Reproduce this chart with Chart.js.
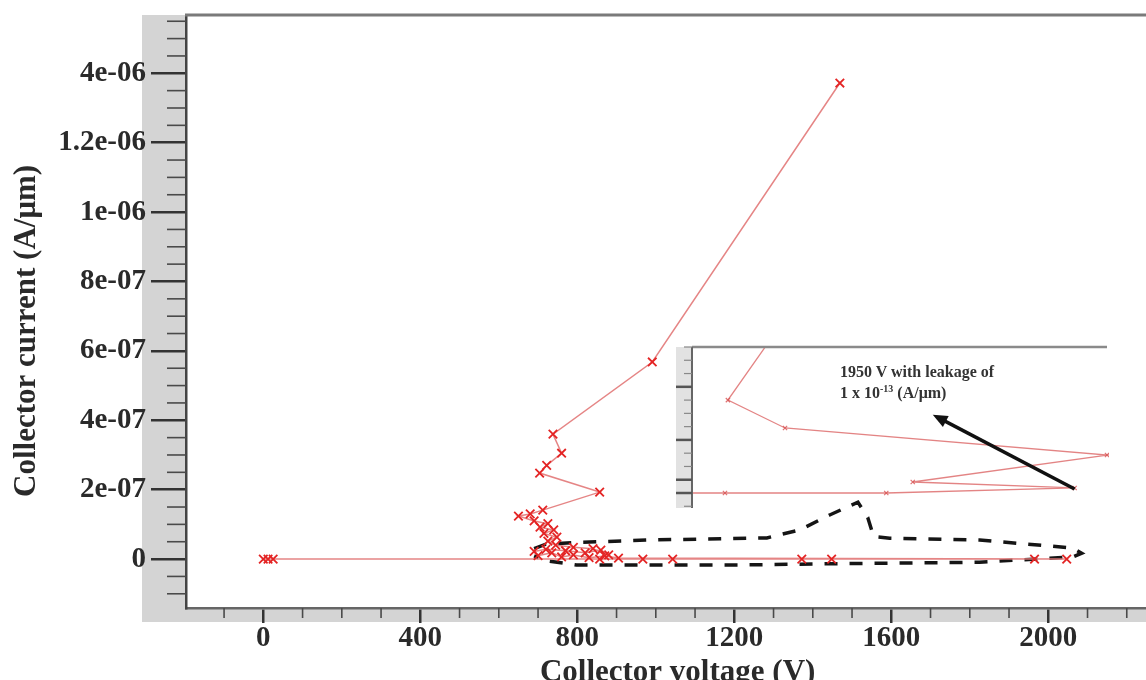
<!DOCTYPE html>
<html>
<head>
<meta charset="utf-8">
<script src="https://cdn.jsdelivr.net/npm/chart.js@4.4.0/dist/chart.umd.min.js"></script>
<style>
  html, body { margin: 0; padding: 0; background: #fff; }
  #wrap { position: relative; width: 1146px; height: 680px; overflow: hidden; }
  canvas { filter: blur(0.4px); }
  #main { position: absolute; left: 0; top: 0; }
  #inset { position: absolute; left: 660px; top: 330px; }
  .note { position: absolute; left: 840px; top: 361px; font: bold 16px 'Liberation Serif', 'Times New Roman', serif; color: #333; line-height: 21px; white-space: nowrap; }
  .note sup { font-size: 10px; line-height: 0; vertical-align: 6px; }
</style>
</head>
<body>
<div id="wrap">
  <canvas id="main" width="1146" height="700"></canvas>
  <canvas id="inset" width="486" height="190"></canvas>
  <div class="note">1950 V with leakage of<br>1 x 10<sup>-13</sup> (A/&mu;m)</div>
</div>
<script>
// --- data ---
// x: collector voltage (V), y: collector current (A/um)
const xTicks = [0, 400, 800, 1200, 1600, 2000];
const xTickLabels = ['0', '400', '800', '1200', '1600', '2000'];
const yTicks = [0, 2e-7, 4e-7, 6e-7, 8e-7, 1e-6, 1.2e-6, 1.4e-6];
const yTickLabels = ['0', '2e-07', '4e-07', '6e-07', '8e-07', '1e-06', '1.2e-06', '4e-06'];

// red sweep with x markers
const redV = [0, 12, 25, 857, 967, 1043, 1372, 1448, 1965, 2047,
  905, 870, 830, 790, 760, 735, 700, 690, 720, 770, 820, 860, 880, 840, 790,
  745, 725, 748, 715, 740, 705, 725, 690, 650, 680, 712,
  857, 704, 722, 760, 738, 991, 1469];
const redI = [0, 0, 0, 0, 0, 0, 0, 0, 0, 0,
  3e-9, 9e-9, 4e-9, 1.2e-8, 6e-9, 1.8e-8, 1.0e-8, 2.2e-8, 2.8e-8, 2.4e-8, 1.8e-8, 2.6e-8, 1.2e-8, 3.0e-8, 3.4e-8,
  4.0e-8, 5.2e-8, 6.3e-8, 7.4e-8, 8.4e-8, 9.2e-8, 1.02e-7, 1.1e-7, 1.24e-7, 1.3e-7, 1.41e-7,
  1.93e-7, 2.48e-7, 2.7e-7, 3.05e-7, 3.6e-7, 5.68e-7, 1.372e-6];

// black dashed loop
const blackV = [690, 720, 800, 985, 1283, 1367, 1443, 1515, 1540, 1555, 1596, 1825, 2062, 2085,
  2062, 1825, 1486, 1214, 798, 720, 690];
const blackI = [3.0e-8, 4.3e-8, 4.8e-8, 5.5e-8, 6.1e-8, 8.4e-8, 1.27e-7, 1.64e-7, 1.2e-7, 6.5e-8, 6.0e-8, 5.5e-8, 3.2e-8, 1.7e-8,
  6e-9, -9e-9, -1.3e-8, -1.7e-8, -1.7e-8, -5e-9, 9e-9];

// inset (leakage close-up), current in units of 1e-13 A/um
const insetV = [1273, 1356, 1630, 1950, 1675, 2005, 1458, 1361, 1456];
const insetI = [0, 0, 0, 0.38, 0.83, 2.86, 4.9, 7.0, 13];
const insetYTicks = [-1, 0, 1, 2, 3, 4, 5, 6, 7, 8, 9, 10, 11];
const insetYMajor = [0, 1, 4, 8];
const arrowFrom = {x: 1950, y: 0.3};
const arrowTo = {x: 1709, y: 5.9};

const serif = "'Liberation Serif', 'Times New Roman', serif";
const pts = (xs, ys) => xs.map((v, i) => ({x: v, y: ys[i]}));

const panelPlugin = {
  id: 'panel',
  beforeDraw(chart) {
    const {ctx, chartArea: a, width} = chart;
    ctx.save();
    ctx.fillStyle = '#d4d4d4';
    ctx.fillRect(a.left - 44, a.top, 44, a.bottom + 14 - a.top);
    ctx.fillRect(a.left - 44, a.bottom, width, 14);
    ctx.restore();
  },
  afterDraw(chart) {
    const {ctx, chartArea: a, scales} = chart;
    const x = scales.x, y = scales.y;
    ctx.save();
    ctx.strokeStyle = '#4a4a4a';
    ctx.lineWidth = 1.6;
    // minor ticks
    for (let v = -100; v <= x.max; v += 100) {
      if (xTicks.some(t => Math.abs(t - v) < 1)) continue;
      const px = x.getPixelForValue(v);
      ctx.beginPath(); ctx.moveTo(px, a.bottom); ctx.lineTo(px, a.bottom + 10); ctx.stroke();
    }
    for (let k = -2; k <= 31; k++) {
      const v = k * 5e-8;
      if (yTicks.some(t => Math.abs(t - v) < 1e-9)) continue;
      const py = y.getPixelForValue(v);
      ctx.beginPath(); ctx.moveTo(a.left - 19, py); ctx.lineTo(a.left, py); ctx.stroke();
    }
    // top frame line
    ctx.strokeStyle = '#7a7a7a';
    ctx.lineWidth = 3;
    ctx.beginPath(); ctx.moveTo(a.left - 1, a.top); ctx.lineTo(a.right, a.top); ctx.stroke();
    ctx.restore();
  }
};

new Chart(document.getElementById('main'), {
  type: 'scatter',
  data: {
    datasets: [{
      label: 'sweep',
      data: pts(redV, redI),
      showLine: true,
      borderColor: 'rgba(226,120,120,0.9)',
      borderWidth: 1.5,
      pointStyle: 'crossRot',
      pointRadius: 6,
      pointBorderColor: '#e42424',
      pointBackgroundColor: '#e42424',
      pointBorderWidth: 1.8
    }, {
      label: 'loop',
      data: pts(blackV, blackI),
      showLine: true,
      borderColor: '#151515',
      borderWidth: 3.5,
      borderDash: [13, 12],
      pointRadius: 0
    }]
  },
  options: {
    responsive: false,
    animation: false,
    layout: {autoPadding: false, padding: {left: 0, right: 0, top: 15, bottom: 0}},
    plugins: {legend: {display: false}, tooltip: {enabled: false}},
    scales: {
      x: {
        type: 'linear', min: -197, max: 2249,
        afterBuildTicks: s => { s.ticks = xTicks.map(v => ({value: v})); },
        afterFit: s => { s.height = 92; s.paddingLeft = 0; s.paddingRight = 0; },
        grid: {drawOnChartArea: false, drawTicks: true, tickLength: 15, tickColor: '#333', lineWidth: 2.5},
        border: {display: true, color: '#666', width: 2.5},
        ticks: {padding: 1, color: '#2a2a2a', font: {family: serif, size: 29, weight: 'bold', lineHeight: 1},
          callback: (v, i) => xTickLabels[i]},
        title: {display: true, text: '\u00a0\u00a0\u00a0Collector voltage (V)', color: '#2a2a2a',
          font: {family: serif, size: 31, weight: 'bold', lineHeight: 1}, padding: {top: 0, bottom: 12}}
      },
      y: {
        type: 'linear', min: -1.41e-7, max: 1.568e-6,
        afterBuildTicks: s => { s.ticks = yTicks.map(v => ({value: v})); },
        afterFit: s => { s.width = 186; s.paddingTop = 0; s.paddingBottom = 0; },
        grid: {drawOnChartArea: false, drawTicks: true, tickLength: 35, tickColor: '#333', lineWidth: 2.5},
        border: {display: true, color: '#444', width: 2.5},
        ticks: {padding: 5, color: '#2a2a2a', font: {family: serif, size: 29, weight: 'bold', lineHeight: 1},
          callback: (v, i) => yTickLabels[i]},
        title: {display: true, text: 'Collector current (A/\u03bcm)\u00a0\u00a0\u00a0\u00a0\u00a0', color: '#2a2a2a',
          font: {family: serif, size: 31, weight: 'bold', lineHeight: 1}, padding: {top: 11, bottom: 0}}
      }
    }
  },
  plugins: [panelPlugin]
});

const insetPlugin = {
  id: 'insetFrame',
  beforeDraw(chart) {
    const {ctx, chartArea: a} = chart;
    ctx.save();
    ctx.fillStyle = '#e2e2e2';
    ctx.fillRect(a.left - 16, a.top, 16, a.bottom - a.top);
    ctx.restore();
  },
  afterDraw(chart) {
    const {ctx, chartArea: a, scales} = chart;
    const x = scales.x, y = scales.y;
    ctx.save();
    ctx.strokeStyle = '#8a8a8a';
    ctx.lineWidth = 2.5;
    ctx.beginPath(); ctx.moveTo(a.left, a.top); ctx.lineTo(a.right, a.top); ctx.stroke();
    ctx.strokeStyle = '#666';
    ctx.lineWidth = 2;
    ctx.beginPath(); ctx.moveTo(a.left, a.top); ctx.lineTo(a.left, a.bottom); ctx.stroke();
    insetYTicks.forEach(v => {
      const py = y.getPixelForValue(v);
      const major = insetYMajor.includes(v);
      ctx.lineWidth = major ? 2.5 : 1.2;
      ctx.strokeStyle = major ? '#555' : '#888';
      ctx.beginPath(); ctx.moveTo(a.left - (major ? 16 : 8), py); ctx.lineTo(a.left, py); ctx.stroke();
    });
    // arrow
    const x0 = x.getPixelForValue(arrowFrom.x), y0 = y.getPixelForValue(arrowFrom.y);
    const x1 = x.getPixelForValue(arrowTo.x), y1 = y.getPixelForValue(arrowTo.y);
    const ang = Math.atan2(y1 - y0, x1 - x0);
    ctx.strokeStyle = '#111';
    ctx.fillStyle = '#111';
    ctx.lineWidth = 3.5;
    ctx.beginPath(); ctx.moveTo(x0, y0); ctx.lineTo(x1 - 10 * Math.cos(ang), y1 - 10 * Math.sin(ang)); ctx.stroke();
    ctx.beginPath();
    ctx.moveTo(x1, y1);
    ctx.lineTo(x1 - 16 * Math.cos(ang - 0.4), y1 - 16 * Math.sin(ang - 0.4));
    ctx.lineTo(x1 - 16 * Math.cos(ang + 0.4), y1 - 16 * Math.sin(ang + 0.4));
    ctx.closePath(); ctx.fill();
    ctx.restore();
  }
};

new Chart(document.getElementById('inset'), {
  type: 'scatter',
  data: {
    datasets: [{
      label: 'leakage',
      data: pts(insetV, insetI),
      showLine: true,
      borderColor: 'rgba(222,110,110,0.85)',
      borderWidth: 1.3,
      pointStyle: 'crossRot',
      pointRadius: 3,
      pointBorderColor: 'rgba(215,80,80,0.8)',
      pointBorderWidth: 1.2,
      clip: {left: 16, top: 0, right: 2, bottom: 2}
    }]
  },
  options: {
    responsive: false,
    animation: false,
    layout: {autoPadding: false, padding: {left: 32, right: 39, top: 17, bottom: 12}},
    plugins: {legend: {display: false}, tooltip: {enabled: false}},
    scales: {
      x: {type: 'linear', display: false, min: 1300, max: 2005},
      y: {type: 'linear', display: false, min: -1.13, max: 11}
    }
  },
  plugins: [insetPlugin]
});
</script>
</body>
</html>
